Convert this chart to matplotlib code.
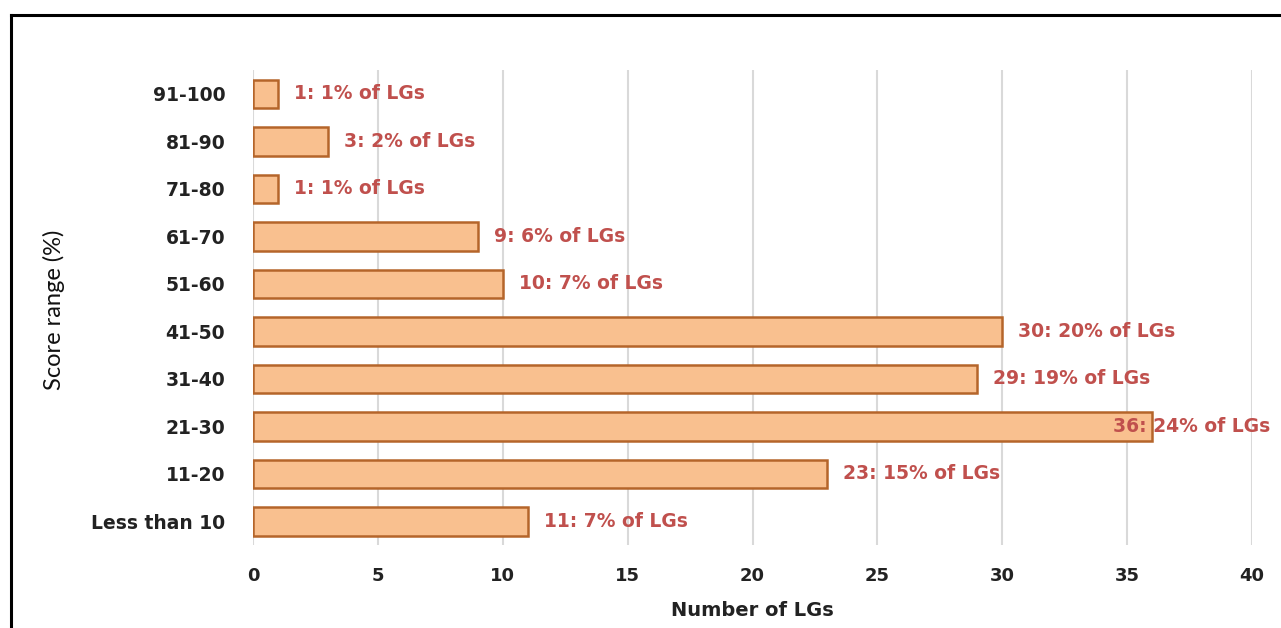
import matplotlib
matplotlib.use("Agg")
import matplotlib.pyplot as plt
from matplotlib.lines import Line2D

categories = ["Less than 10", "11-20", "21-30", "31-40", "41-50",
              "51-60", "61-70", "71-80", "81-90", "91-100"]
counts = [11, 23, 36, 29, 30, 10, 9, 1, 3, 1]
percents = [7, 15, 24, 19, 20, 7, 6, 1, 2, 1]
x_ticks = [0, 5, 10, 15, 20, 25, 30, 35, 40]

fig = plt.figure(figsize=(12.81, 6.28), dpi=100)
ax = fig.add_axes([253/1281, 1-545/628, (1252-253)/1281, 475/628])

ypos = list(range(len(categories)))
ax.barh(ypos, counts, height=0.6, color="#F9C08F", edgecolor="#B5652A",
        linewidth=1.8, zorder=3)

for y, c, p in zip(ypos, counts, percents):
    label = f"{c}: {p}% of LGs"
    if c >= 36:
        ax.annotate(label, (c, y), xytext=(-28, 0), textcoords="offset points",
                    ha="left", va="center", color="#C0504D", fontsize=13.5,
                    fontweight="bold", annotation_clip=False, zorder=4)
    else:
        ax.annotate(label, (c, y), xytext=(11.5, 0), textcoords="offset points",
                    ha="left", va="center", color="#C0504D", fontsize=13.5,
                    fontweight="bold", zorder=4)

ax.set_xlim(0, 40)
ax.set_ylim(-0.5, len(categories) - 0.5)
ax.set_yticks(ypos)
ax.set_yticklabels(categories, fontsize=13.5, fontweight="bold", color="#222222")
ax.set_xticks(x_ticks)
ax.set_xticklabels([str(t) for t in x_ticks], fontsize=13, fontweight="bold",
                   color="#222222")
ax.tick_params(axis="both", length=0)
ax.tick_params(axis="y", pad=20)
ax.tick_params(axis="x", pad=16)
for s in ax.spines.values():
    s.set_visible(False)
ax.grid(axis="x", color="#D9D9D9", linewidth=1.5, zorder=0)
ax.set_axisbelow(True)

ax.set_xlabel("Number of LGs", fontsize=14, fontweight="bold", color="#222222",
              labelpad=11)
fig.text(54/1281, 1-310/628, "Score range (%)", rotation=90, ha="center",
         va="center", fontsize=17, family="Lato", color="#111111")

# black frame (left and top edges)
fig.add_artist(Line2D([11/1281, 11/1281], [0, 1-15/628], color="black",
                      linewidth=2.2, transform=fig.transFigure))
fig.add_artist(Line2D([11/1281, 1], [1-15/628, 1-15/628], color="black",
                      linewidth=2.2, transform=fig.transFigure))

fig.savefig("out.png", dpi=100)
